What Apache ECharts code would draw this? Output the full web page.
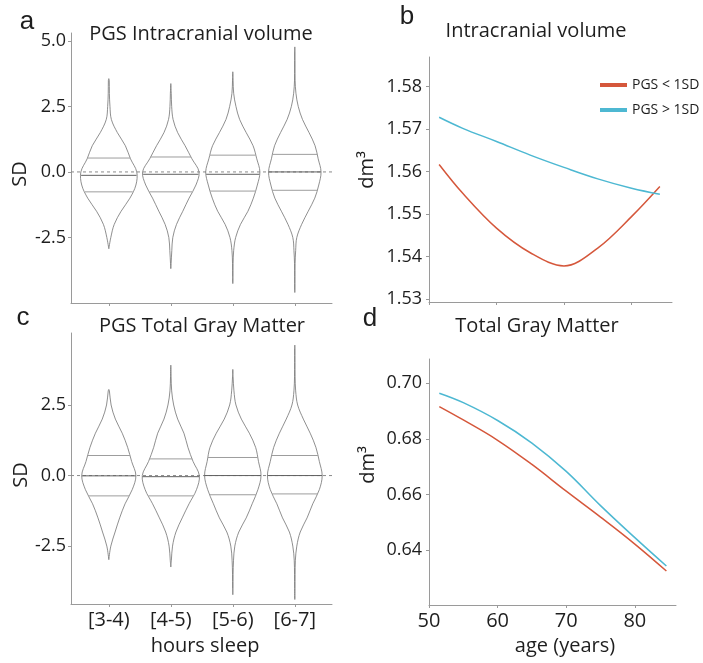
<!doctype html>
<html lang="en" style="height: 100%">
<head>
  <meta charset="utf-8" />
  <script type="text/javascript" src="https://fastly.jsdelivr.net/npm/echarts@6.0.0/dist/echarts.min.js"></script>
</head>
<body style="height: 100%; margin: 0; background: #fff">
  <div id="main" style="width: 703px; height: 663px"></div>
  <script type="text/javascript">
    // ---- data ----
    var sleepCats = ['[3-4)', '[4-5)', '[5-6)', '[6-7]'];
    var sdGrid = [-4.5, -4, -3.5, -3, -2.5, -2, -1.5, -1, -0.5, 0, 0.5, 1, 1.5, 2, 2.5, 3, 3.5, 4, 4.5];

    // relative violin widths on sdGrid (1 = widest)
    var icvDensity = [
      [0, 0, 0, 0, 0.07, 0.19, 0.43, 0.74, 0.95, 0.98, 0.76, 0.58, 0.30, 0.09, 0.04, 0.02, 0.015, 0, 0],
      [0, 0, 0.01, 0.035, 0.07, 0.20, 0.42, 0.64, 0.88, 0.99, 0.74, 0.50, 0.24, 0.08, 0.03, 0.015, 0, 0, 0],
      [0, 0.005, 0.01, 0.03, 0.10, 0.27, 0.53, 0.72, 0.86, 0.95, 0.84, 0.71, 0.47, 0.24, 0.11, 0.03, 0.01, 0, 0],
      [0.003, 0.005, 0.01, 0.03, 0.07, 0.24, 0.47, 0.70, 0.84, 0.92, 0.82, 0.71, 0.50, 0.27, 0.12, 0.04, 0.01, 0.005, 0.003]
    ];
    var icvRange = [[-2.93, 3.56], [-3.69, 3.37], [-4.26, 3.82], [-4.6, 4.77]];
    var icvQuart = [[-0.76, -0.13, 0.53], [-0.76, -0.09, 0.57], [-0.73, -0.09, 0.64], [-0.70, 0.0, 0.67]];

    var gmDensity = [
      [0, 0, 0, 0, 0.07, 0.22, 0.38, 0.57, 0.82, 0.95, 0.80, 0.66, 0.47, 0.23, 0.08, 0.02, 0, 0, 0],
      [0, 0, 0, 0.02, 0.06, 0.18, 0.40, 0.64, 0.90, 1.0, 0.78, 0.60, 0.46, 0.24, 0.10, 0.03, 0.01, 0, 0],
      [0, 0.005, 0.01, 0.025, 0.07, 0.21, 0.47, 0.68, 0.88, 0.99, 0.90, 0.80, 0.58, 0.30, 0.11, 0.04, 0.01, 0, 0],
      [0, 0.005, 0.01, 0.02, 0.07, 0.19, 0.43, 0.63, 0.86, 0.96, 0.86, 0.74, 0.54, 0.30, 0.10, 0.03, 0.01, 0.005, 0.003]
    ];
    var gmRange = [[-2.98, 3.05], [-3.24, 3.91], [-4.22, 3.76], [-4.39, 4.62]];
    var gmQuart = [[-0.72, -0.01, 0.71], [-0.72, -0.04, 0.59], [-0.68, 0.0, 0.64], [-0.65, 0.0, 0.71]];

    var icvAges = [51.5, 55, 60, 65, 70, 75, 80, 84.2];
    var icvLow = [1.5617, 1.5549, 1.5467, 1.5409, 1.5378, 1.5420, 1.5494, 1.5565];
    var icvHigh = [1.5728, 1.5702, 1.5671, 1.5639, 1.5610, 1.5583, 1.5561, 1.5547];

    var gmAges = [51.5, 55, 60, 65, 70, 75, 80, 84.6];
    var gmLow = [0.6916, 0.6868, 0.6795, 0.6708, 0.6612, 0.6519, 0.6422, 0.6325];
    var gmHigh = [0.6964, 0.6930, 0.6866, 0.6785, 0.6683, 0.6560, 0.6445, 0.6343];

    // ---- chart ----
    var FONT = 'Open Sans';
    var TXT = '#1e1e1e';
    var AX = '#9a9a9a';
    var RED = '#d5573b';
    var BLUE = '#4db8d2';
    var HALF = 0.46; // widest violin half-width in category units
    var CAT_MIN = 0.39, CAT_MAX = 4.6;

    var chartDom = document.getElementById('main');
    var myChart = echarts.init(chartDom);

    function pairs(xs, ys) {
      return xs.map(function (x, i) { return [x, ys[i]]; });
    }

    function violinSeries(axisIdx, dens, ranges, quarts) {
      return {
        type: 'custom',
        xAxisIndex: axisIdx,
        yAxisIndex: axisIdx,
        data: dens.map(function (d, i) { return [i + 1, 0]; }),
        encode: { x: 0, y: 1 },
        silent: true,
        renderItem: function (params, api) {
          var i = params.dataIndex;
          var cx = i + 1;
          var lo = ranges[i][0], hi = ranges[i][1];
          var pts = [[lo, 0]];
          sdGrid.forEach(function (y, k) {
            if (y > lo && y < hi) pts.push([y, dens[i][k]]);
          });
          pts.push([hi, 0]);
          var right = pts.map(function (p) { return api.coord([cx + p[1] * HALF, p[0]]); });
          var left = pts.map(function (p) { return api.coord([cx - p[1] * HALF, p[0]]); });
          function widthAt(y) {
            for (var k = 1; k < pts.length; k++) {
              if (y <= pts[k][0]) {
                var t = (y - pts[k - 1][0]) / (pts[k][0] - pts[k - 1][0]);
                return pts[k - 1][1] + t * (pts[k][1] - pts[k - 1][1]);
              }
            }
            return 0;
          }
          var children = [];
          [right, left].forEach(function (side) {
            children.push({
              type: 'polyline',
              shape: { points: side, smooth: 0.35 },
              style: { stroke: '#727272', lineWidth: 0.8, fill: null }
            });
          });
          quarts[i].forEach(function (q, qi) {
            var w = widthAt(q) * HALF;
            var a = api.coord([cx - w, q]);
            var b = api.coord([cx + w, q]);
            children.push({
              type: 'line',
              shape: { x1: a[0], y1: a[1], x2: b[0], y2: b[1] },
              style: { stroke: qi === 1 ? '#606060' : '#9d9d9d', lineWidth: 1 }
            });
          });
          return { type: 'group', children: children };
        }
      };
    }

    function zeroLine(axisIdx) {
      return {
        type: 'line',
        xAxisIndex: axisIdx,
        yAxisIndex: axisIdx,
        data: [[CAT_MIN, 0], [CAT_MAX, 0]],
        symbol: 'none',
        silent: true,
        lineStyle: { color: '#8a8a8a', type: [3, 3], width: 1 },
        z: 1
      };
    }

    function yAxisCfg(idx, min, max, ticks, digits) {
      return {
        type: 'value',
        gridIndex: idx,
        min: min,
        max: max,
        axisLine: { show: true, lineStyle: { color: AX } },
        axisTick: { show: true, length: 3, lineStyle: { color: AX }, customValues: ticks },
        splitLine: { show: false },
        axisLabel: {
          customValues: ticks,
          margin: idx % 2 === 0 ? 5 : 7,
          color: TXT,
          fontSize: 18,
          fontFamily: FONT,
          formatter: function (v) { return Number(v).toFixed(digits); }
        }
      };
    }

    function xAxisCfg(idx, min, max, ticks, showLabels, fmt) {
      return {
        type: 'value',
        gridIndex: idx,
        min: min,
        max: max,
        axisLine: { show: true, onZero: false, lineStyle: { color: AX } },
        axisTick: { show: true, length: 3, lineStyle: { color: AX }, customValues: ticks },
        splitLine: { show: false },
        axisLabel: {
          show: showLabels,
          customValues: ticks,
          margin: 6,
          color: TXT,
          fontSize: 20,
          fontFamily: FONT,
          formatter: fmt
        }
      };
    }

    function label(text, x, y, size, rot, fam) {
      return {
        type: 'text',
        x: x,
        y: y,
        rotation: rot || 0,
        style: {
          text: text,
          fill: TXT,
          fontSize: size,
          fontFamily: fam || FONT,
          align: 'center',
          verticalAlign: 'middle'
        }
      };
    }

    var catFmt = function (v) { return sleepCats[Math.round(v) - 1]; };
    var ageFmt = function (v) { return String(Math.round(v)); };

    var option = {
      animation: false,
      backgroundColor: '#fff',
      grid: [
        { left: 71, top: 33, width: 261, height: 270 },
        { left: 429, top: 57, width: 243, height: 245 },
        { left: 71, top: 333, width: 261, height: 271 },
        { left: 429, top: 359, width: 247, height: 246 }
      ],
      xAxis: [
        xAxisCfg(0, CAT_MIN, CAT_MAX, [1, 2, 3, 4], false, catFmt),
        xAxisCfg(1, 50, 86, [50, 60, 70, 80], false, ageFmt),
        xAxisCfg(2, CAT_MIN, CAT_MAX, [1, 2, 3, 4], true, catFmt),
        xAxisCfg(3, 50, 86, [50, 60, 70, 80], true, ageFmt)
      ],
      yAxis: [
        yAxisCfg(0, -5.0, 5.3, [-2.5, 0, 2.5, 5], 1),
        yAxisCfg(1, 1.5293, 1.587, [1.53, 1.54, 1.55, 1.56, 1.57, 1.58], 2),
        yAxisCfg(2, -4.55, 5.05, [-2.5, 0, 2.5], 1),
        yAxisCfg(3, 0.6203, 0.7087, [0.64, 0.66, 0.68, 0.70], 2)
      ],
      legend: {
        orient: 'vertical',
        left: 595,
        top: 73,
        itemWidth: 27,
        itemHeight: 4,
        itemGap: 11,
        icon: 'rect',
        textStyle: { fontSize: 14, color: TXT, fontFamily: FONT },
        data: ['PGS < 1SD', 'PGS > 1SD']
      },
      series: [
        zeroLine(0),
        violinSeries(0, icvDensity, icvRange, icvQuart),
        zeroLine(2),
        violinSeries(2, gmDensity, gmRange, gmQuart),
        {
          name: 'PGS < 1SD', type: 'line', xAxisIndex: 1, yAxisIndex: 1,
          data: pairs(icvAges, icvLow), smooth: 0.35, showSymbol: false,
          lineStyle: { color: RED, width: 1.5 }, itemStyle: { color: RED }
        },
        {
          name: 'PGS > 1SD', type: 'line', xAxisIndex: 1, yAxisIndex: 1,
          data: pairs(icvAges, icvHigh), smooth: 0.4, showSymbol: false,
          lineStyle: { color: BLUE, width: 1.5 }, itemStyle: { color: BLUE }
        },
        {
          name: 'PGS < 1SD', type: 'line', xAxisIndex: 3, yAxisIndex: 3,
          data: pairs(gmAges, gmLow), smooth: 0.4, showSymbol: false,
          lineStyle: { color: RED, width: 1.5 }, itemStyle: { color: RED }
        },
        {
          name: 'PGS > 1SD', type: 'line', xAxisIndex: 3, yAxisIndex: 3,
          data: pairs(gmAges, gmHigh), smooth: 0.4, showSymbol: false,
          lineStyle: { color: BLUE, width: 1.5 }, itemStyle: { color: BLUE }
        }
      ],
      graphic: [
        label('a', 27, 22, 26, 0, 'Liberation Sans'),
        label('b', 407, 17, 26, 0, 'Liberation Sans'),
        label('c', 23, 318, 26, 0, 'Liberation Sans'),
        label('d', 370, 319, 26, 0, 'Liberation Sans'),
        label('PGS Intracranial volume', 201, 34, 20),
        label('Intracranial volume', 536, 31, 20),
        label('PGS Total Gray Matter', 202, 326, 20),
        label('Total Gray Matter', 537, 326, 20),
        label('SD', 20, 174, 20, Math.PI / 2),
        label('SD', 21, 475, 20, Math.PI / 2),
        label('dm³', 367, 170, 20, Math.PI / 2),
        label('dm³', 368, 465, 20, Math.PI / 2),
        label('hours sleep', 205, 646, 20),
        label('age (years)', 565, 646, 20)
      ]
    };

    myChart.setOption(option);
  </script>
</body>
</html>
